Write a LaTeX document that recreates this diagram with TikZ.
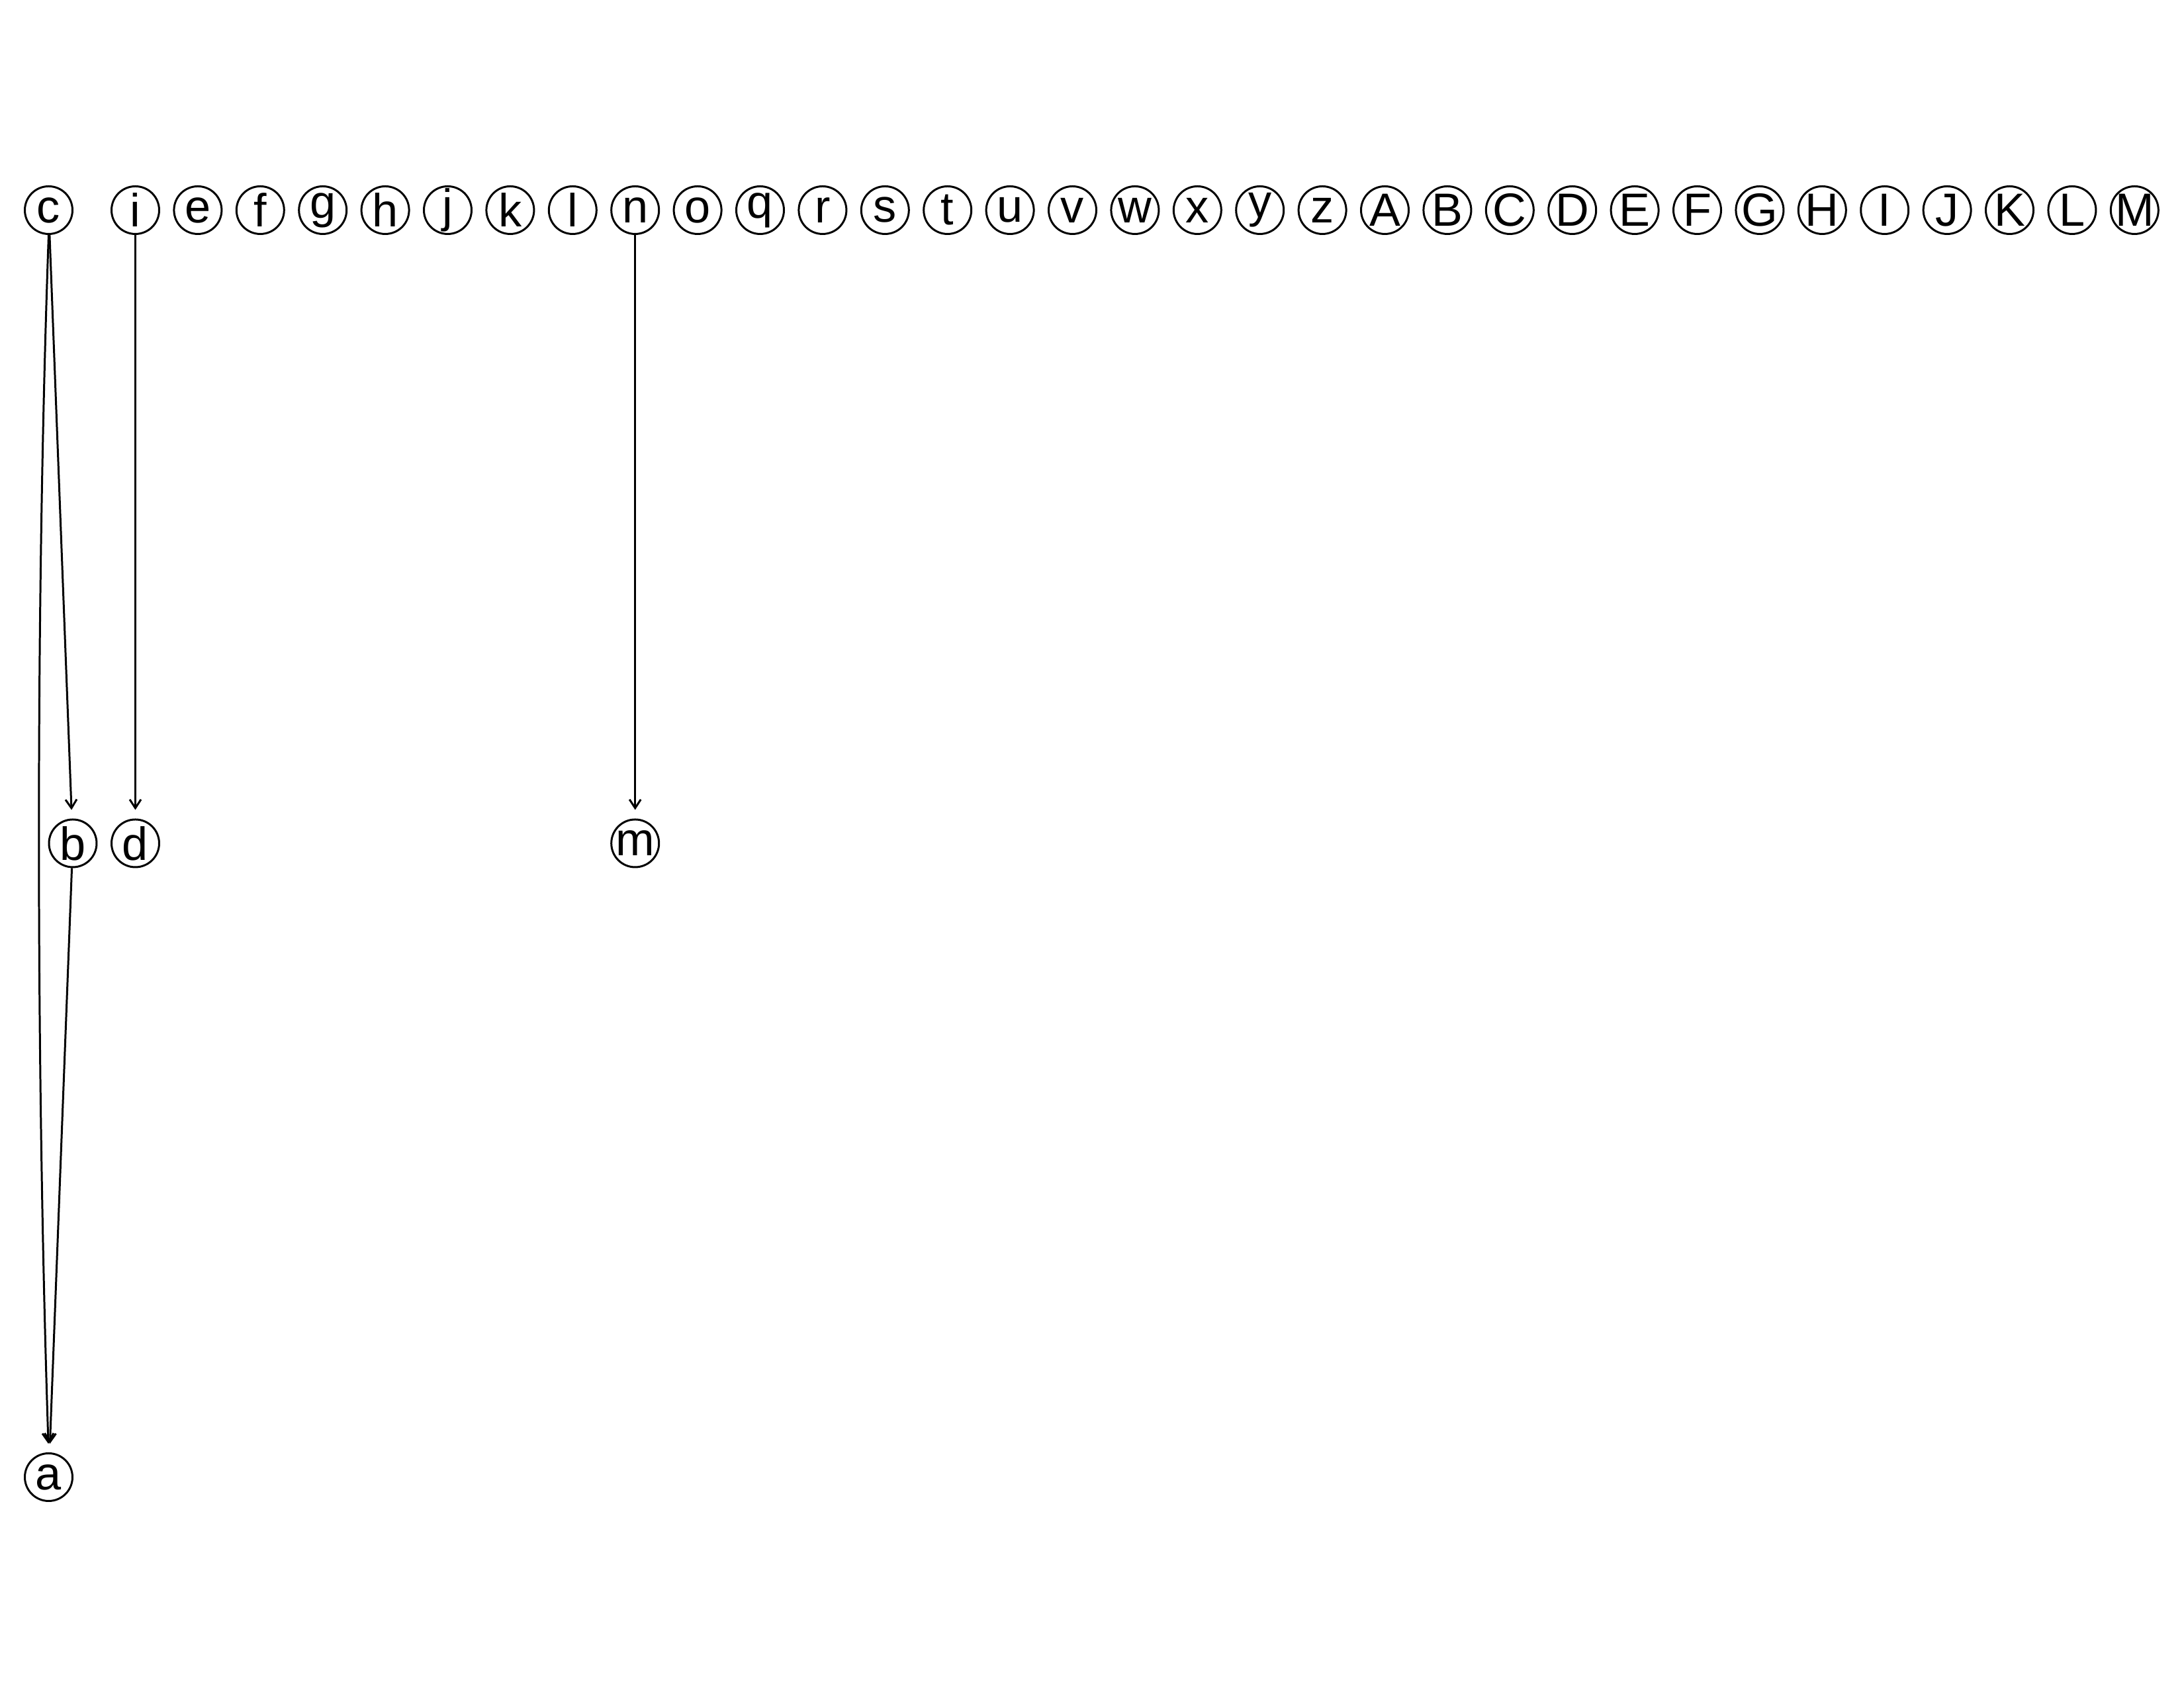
\documentclass[tikz,border=0pt]{standalone}
\usepackage{fontspec}
\setmainfont{Liberation Sans}
\usepackage{tikz}
\usetikzlibrary{arrows.meta}

\begin{document}
\begin{tikzpicture}[x=1cm,y=1cm,
  vertex/.style={draw,circle,line width=0.85pt,minimum size=7.2mm,inner sep=-2mm,font=\fontsize{20}{24}\selectfont},
  >={Straight Barb[length=1.3mm,width=1.7mm]}]
\useasboundingbox (0,0) rectangle (33,25.5);

% top row
\node [vertex] (c) at (0.735,22.325) {c};
\foreach \name [count=\k from 0] in {i,e,f,g,h,j,k,l,n,o,q,r,s,t,u,v,w,x,y,z,A,B,C,D,E,F,G,H,I,J,K,L,M}
  \node [vertex] (\name) at (2.045+0.944*\k,22.325) {\name};

% lower rows
\node [vertex] (b) at (1.10,12.76) {b};
\node [vertex] (d) at (2.045,12.76) {d};
\node [vertex] (m) at (9.597,12.76) {m};
\node [vertex] (a) at (0.735,3.185) {a};

\draw [line width=0.85pt] [->,shorten >=1.3mm] (c) -- (b);
\draw [line width=0.85pt] [->,shorten >=1.3mm] (i) -- (d);
\draw [line width=0.85pt] [->,shorten >=1.3mm] (n) -- (m);
\draw [line width=0.85pt] [->,shorten >=1.3mm] (c.south) .. controls (0.54,16.5) and (0.54,9.5) .. (a.north);
\draw [line width=0.85pt] [->,shorten >=1.3mm] (b) -- (a);
\end{tikzpicture}
\end{document}
